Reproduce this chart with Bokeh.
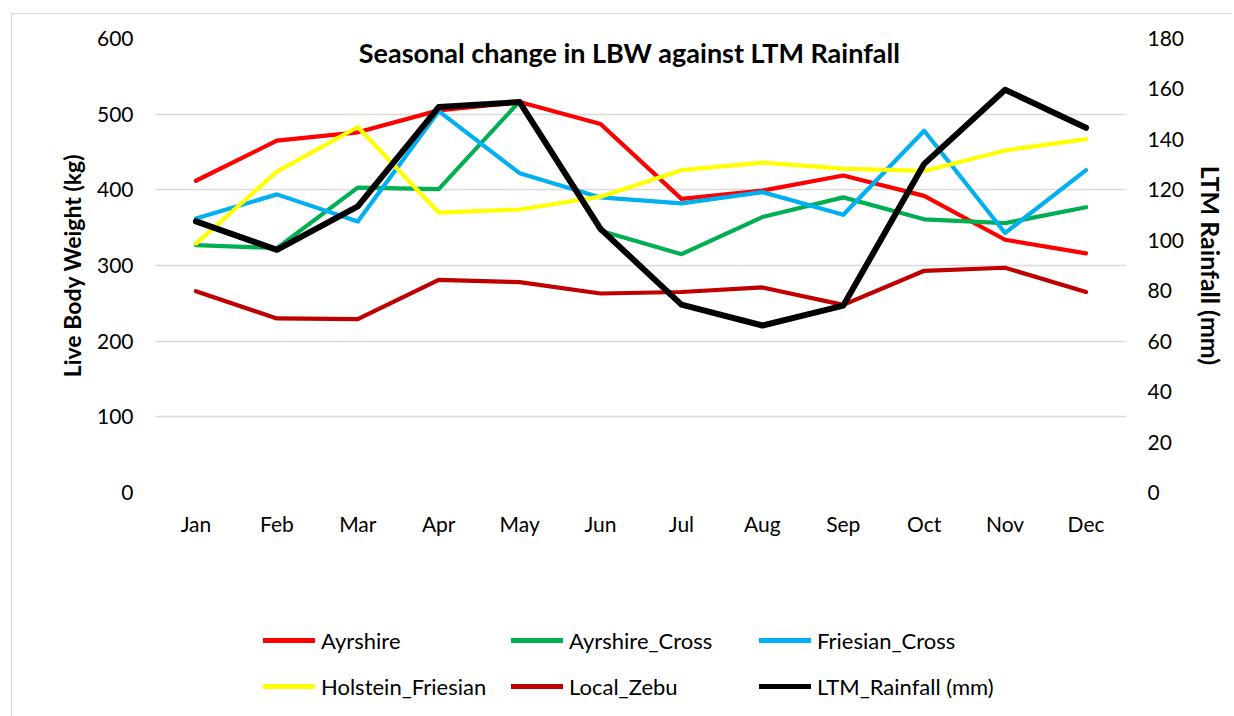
from bokeh.plotting import figure
from bokeh.layouts import column
from bokeh.models import (FactorRange, Range1d, LinearAxis, SingleIntervalTicker,
                          Legend, LegendItem, Label)
from bokeh.embed import file_html
from bokeh.resources import INLINE

months = ["Jan", "Feb", "Mar", "Apr", "May", "Jun",
          "Jul", "Aug", "Sep", "Oct", "Nov", "Dec"]
ayrshire = [412, 465, 476, 505, 516, 487, 388, 399, 419, 392, 334, 316]
ayrshire_cross = [327, 323, 403, 401, 517, 346, 315, 364, 390, 361, 356, 377]
friesian_cross = [362, 394, 358, 504, 422, 390, 382, 397, 367, 478, 343, 426]
holstein_friesian = [329, 424, 483, 370, 374, 391, 426, 436, 428, 425, 452, 467]
local_zebu = [266, 230, 229, 281, 278, 263, 265, 271, 248, 293, 297, 265]
ltm_rainfall = [107.5, 96.2, 113.4, 152.8, 154.8, 104.5, 74.5, 66.2, 74.1, 130.3, 159.7, 144.6]

FONT = "Lato"

x_range = FactorRange(*months)
p = figure(x_range=x_range, y_range=Range1d(0, 600),
           width=1220, height=554, output_backend="svg", toolbar_location=None,
           min_border_left=143, min_border_right=106, min_border_top=24,
           min_border_bottom=76)
p.outline_line_color = None
p.background_fill_color = "white"
p.border_fill_color = "white"

left_ticker = SingleIntervalTicker(interval=100)
p.yaxis[0].ticker = left_ticker
p.ygrid[0].ticker = left_ticker
p.ygrid.grid_line_color = "#d9d9d9"
p.ygrid.grid_line_width = 1.5
p.xgrid.grid_line_color = None

p.extra_y_ranges = {"rain": Range1d(0, 180)}
right_axis = LinearAxis(y_range_name="rain", ticker=SingleIntervalTicker(interval=20),
                        axis_label="LTM Rainfall (mm)")
p.add_layout(right_axis, "right")

p.yaxis[0].axis_label = "Live Body Weight (kg)"

for ax in [p.xaxis[0], p.yaxis[0], right_axis]:
    ax.axis_line_color = None
    ax.major_tick_line_color = None
    ax.minor_tick_line_color = None
    ax.major_tick_out = 0
    ax.major_tick_in = 0
    ax.major_label_text_font = FONT
    ax.major_label_text_font_size = "21px"
    ax.major_label_text_color = "#000000"
    ax.axis_label_text_font = FONT
    ax.axis_label_text_font_style = "bold"
    ax.axis_label_text_color = "#000000"

p.yaxis[0].axis_label_text_font_size = "23px"
right_axis.axis_label_text_font_size = "25px"
p.xaxis[0].major_label_standoff = 18
p.yaxis[0].major_label_standoff = 18
right_axis.major_label_standoff = 17
p.yaxis[0].axis_label_standoff = 8
right_axis.axis_label_standoff = 9

series = [
    (ayrshire, "Ayrshire", "#FF0000", 4.2, "default"),
    (ayrshire_cross, "Ayrshire_Cross", "#00B050", 4.2, "default"),
    (friesian_cross, "Friesian_Cross", "#00B0F0", 4.2, "default"),
    (holstein_friesian, "Holstein_Friesian", "#FFFF00", 4.2, "default"),
    (local_zebu, "Local_Zebu", "#C00000", 4.2, "default"),
    (ltm_rainfall, "LTM_Rainfall (mm)", "#000000", 6, "rain"),
]

for vals, name, color, lw, rng in series:
    p.line(months, vals, line_color=color, line_width=lw,
           line_cap="round", line_join="round", y_range_name=rng)

title = Label(x=5.857, y=581, text="Seasonal change in LBW against LTM Rainfall",
              text_font=FONT, text_font_style="bold", text_font_size="27px",
              text_align="center", text_baseline="middle", text_color="#000000")
p.add_layout(title)

# legend panel below the chart (same series, drawn out of its view; only the legend shows)
pl = figure(width=1220, height=148, output_backend="svg", toolbar_location=None,
            x_axis_type=None, y_axis_type=None, min_border=0,
            x_range=x_range, y_range=Range1d(-2000, -1000))
pl.outline_line_color = None
pl.xgrid.grid_line_color = None
pl.ygrid.grid_line_color = None
items = []
for vals, name, color, lw, rng in series:
    r = pl.line(months, vals, line_color=color, line_width=5, line_cap="round")
    items.append(LegendItem(label=name, renderers=[r]))

legend = Legend(items=items, location=(108, 11), orientation="horizontal", ncols=3,
                glyph_width=52, glyph_height=38, label_height=38, label_width=182,
                label_standoff=6, spacing=8, padding=0, margin=0,
                border_line_color=None, background_fill_alpha=0,
                label_text_font=FONT, label_text_font_size="22px",
                label_text_color="#000000")
pl.add_layout(legend)

layout = column(p, pl, margin=(13, 0, 0, 11),
                styles={"border-left": "1px solid #d9d9d9", "border-top": "1px solid #d9d9d9"})

open("out.html", "w").write(file_html(layout, INLINE))
